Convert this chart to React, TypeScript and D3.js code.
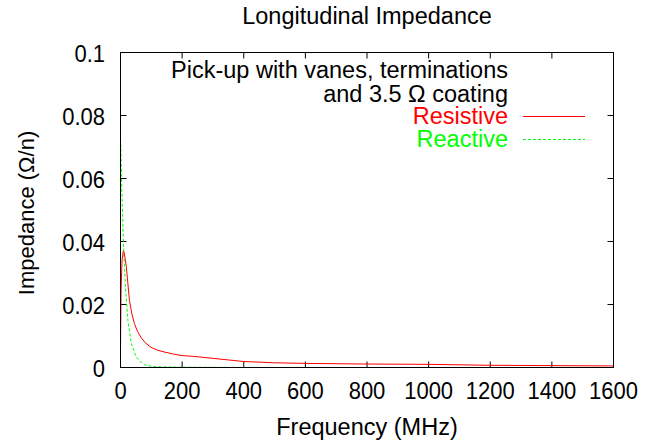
import React from "react";
import * as d3 from "d3";

const resistiveFreq = [0, 2, 5, 9, 12, 19, 29, 37, 45, 55, 66, 80, 99, 120, 143, 170, 197, 241, 300, 400, 500, 600, 800, 1000, 1200, 1400, 1600];
const resistiveVal = [0.0064, 0.025, 0.034, 0.037, 0.0365, 0.032, 0.0213, 0.017, 0.014, 0.0115, 0.0096, 0.0079, 0.0064, 0.0055, 0.0049, 0.0043, 0.0038, 0.0035, 0.0029, 0.0019, 0.0015, 0.0013, 0.0011, 0.001, 0.0007, 0.0006, 0.0005];
const reactiveFreq = [0, 4, 10, 16, 24, 35, 51, 65, 78, 100, 120, 200, 400, 600, 800, 1000, 1200, 1400, 1600];
const reactiveVal = [0.0742, 0.057, 0.038, 0.0255, 0.015, 0.0076, 0.0033, 0.0018, 0.0009, 0.0004, 0.0002, 0.0001, 0, 0, 0, 0, 0, 0, 0];
const xTicks = [0, 200, 400, 600, 800, 1000, 1200, 1400, 1600];
const yTicks = [0, 0.02, 0.04, 0.06, 0.08, 0.1];
const yTickLabels = ["0", "0.02", "0.04", "0.06", "0.08", "0.1"];
const titleText = "Longitudinal Impedance";
const xLabel = "Frequency (MHz)";
const yLabel = "Impedance (Ω/n)";
const legendTitle = ["Pick-up with vanes, terminations", "and 3.5 Ω coating"];
const seriesNames = ["Resistive", "Reactive"];

const W = 657;
const H = 446;
const L = 120.5, R = 613.5, T = 52.5, B = 367.5;
const FONT = "'Liberation Sans', Arial, Helvetica, sans-serif";

export default function App() {
  const x = d3.scaleLinear().domain([0, 1600]).range([L, R]);
  const y = d3.scaleLinear().domain([0, 0.1]).range([B, T]);
  const line = d3.line<[number, number]>().x(d => x(d[0])).y(d => y(d[1]));
  const resData: [number, number][] = resistiveFreq.map((f, i) => [f, resistiveVal[i]]);
  const reaData: [number, number][] = reactiveFreq.map((f, i) => [f, reactiveVal[i]]);
  const tick = 6;
  const legX = 508;
  const big = 23.5;
  return (
    <svg width={W} height={H} style={{ position: "absolute", left: 0, top: 0, display: "block", background: "#fff" }} fontFamily={FONT}>
      <rect x={0} y={0} width={W} height={H} fill="#fff" />
      {xTicks.map(t => (
        <g key={"xt" + t}>
          <line x1={x(t)} x2={x(t)} y1={B} y2={B - tick} stroke="#000" />
          <line x1={x(t)} x2={x(t)} y1={T} y2={T + tick} stroke="#000" />
          <text transform={`translate(${x(t)},399.3) scale(1,1.1)`} fontSize={22} textAnchor="middle">{t}</text>
        </g>
      ))}
      {yTicks.map((t, i) => (
        <g key={"yt" + t}>
          <line x1={L} x2={L + tick} y1={y(t)} y2={y(t)} stroke="#000" />
          <line x1={R} x2={R - tick} y1={y(t)} y2={y(t)} stroke="#000" />
          <text transform={`translate(105,${y(t) + 9}) scale(1,1.1)`} fontSize={22} textAnchor="end">{yTickLabels[i]}</text>
        </g>
      ))}
      <path d={line(reaData) || ""} fill="none" stroke="#00ff00" strokeWidth={1} strokeDasharray="3,2" />
      <path d={line(resData) || ""} fill="none" stroke="#ff0000" strokeWidth={1} />
      <rect x={L} y={T} width={R - L} height={B - T} fill="none" stroke="#000" strokeWidth={1} />
      <text x={(L + R) / 2} y={24} fontSize={big} textAnchor="middle">{titleText}</text>
      <text x={(L + R) / 2} y={435} fontSize={big} textAnchor="middle">{xLabel}</text>
      <text transform={`translate(34,${(T + B) / 2 + 3}) rotate(-90)`} fontSize={22} textAnchor="middle">{yLabel}</text>
      <text x={legX} y={77.7} fontSize={big} textAnchor="end">{legendTitle[0]}</text>
      <text x={legX} y={102.3} fontSize={big} textAnchor="end">{legendTitle[1]}</text>
      <text x={legX} y={124} fontSize={big} textAnchor="end" fill="#ff0000">{seriesNames[0]}</text>
      <line x1={523} x2={585} y1={116.5} y2={116.5} stroke="#ff0000" strokeWidth={1} />
      <text x={legX} y={147.3} fontSize={big} textAnchor="end" fill="#00ff00">{seriesNames[1]}</text>
      <line x1={523} x2={585} y1={139.5} y2={139.5} stroke="#00ff00" strokeWidth={1} strokeDasharray="3,2" />
    </svg>
  );
}
